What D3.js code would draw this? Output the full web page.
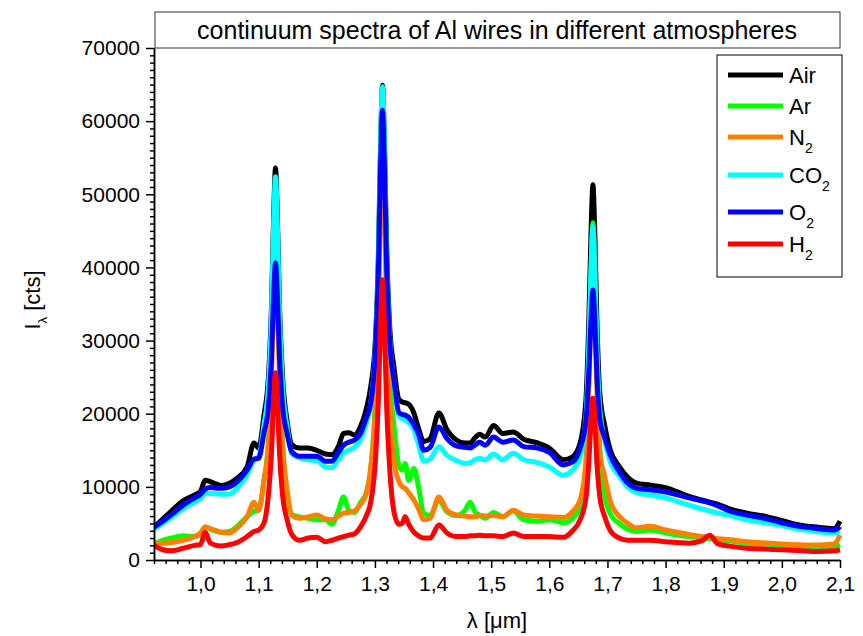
<!DOCTYPE html>
<html>
<head>
<meta charset="utf-8">
<script src="https://cdn.jsdelivr.net/npm/d3@7"></script>
<style>
  body { margin: 0; background: #fff; }
  text { font-family: "Liberation Sans", Arial, sans-serif; }
</style>
</head>
<body>
<div id="chart"></div>
<script>
// wavelength grid in micrometres
var lambda = [0.92,0.935,0.95,0.97,0.99,1.0,1.008,1.017,1.035,1.05,
  1.063,1.08,1.092,1.1,1.109,1.117,1.122,1.126,1.129,1.132,
  1.136,1.141,1.149,1.157,1.17,1.185,1.2,1.215,1.226,1.237,
  1.246,1.255,1.265,1.275,1.285,1.293,1.301,1.306,1.31,1.313,
  1.316,1.32,1.325,1.333,1.341,1.347,1.352,1.358,1.367,1.375,
  1.384,1.395,1.41,1.424,1.44,1.455,1.464,1.472,1.48,1.49,
  1.504,1.52,1.538,1.556,1.58,1.6,1.624,1.64,1.653,1.663,
  1.668,1.672,1.675,1.678,1.682,1.687,1.695,1.705,1.72,1.735,
  1.75,1.773,1.8,1.84,1.862,1.876,1.89,1.91,1.94,1.97,
  2.0,2.03,2.06,2.09,2.1];

var air = [4500,5600,6700,8100,8900,9400,10900,10700,10200,10500,
  11200,12700,16000,15300,19700,25200,34500,47700,53600,47700,
  34500,25200,19000,15800,15300,15300,15000,14500,14400,15500,
  17300,17400,17100,18200,20600,23800,30400,41700,57700,64900,
  58200,43200,32500,26200,22000,21600,21500,21300,20100,18000,
  16200,16600,20100,17800,16400,16000,16000,16700,17200,16800,
  18400,17300,17500,16500,16000,15300,13700,14100,16000,22000,
  32900,45600,51300,45400,32200,22700,18500,15000,12800,11300,
  10500,10250,9900,8700,8200,7900,7600,7000,6400,6000,
  5400,4800,4500,4300,5300];

var ar = [2200,2700,3000,3300,3200,3600,4500,4200,3800,3900,
  4600,5900,6700,6800,10800,16500,26300,39900,46000,39900,
  26200,16400,8500,6200,5900,5700,5500,5500,4900,6700,
  8600,6800,6500,7800,9200,12500,22400,36300,55700,64500,
  56400,38500,25700,18200,13000,12300,13200,10900,12500,10000,
  6400,6100,8200,6600,6100,6800,7900,6600,6150,5700,
  6500,5900,6700,5500,5300,5500,5100,5700,7300,13000,
  26000,39900,46100,39700,25300,15100,9000,6300,5000,4200,
  3900,4100,3700,3200,3000,2900,2800,2600,2300,2200,
  2050,1900,1800,1850,2100];

var n2 = [2300,2300,2400,2700,3200,3700,4500,4300,3800,3700,
  4400,5900,7900,6800,10800,15900,24500,36600,42000,36600,
  24500,15900,9500,6200,5700,5900,6150,5600,5500,6000,
  6400,6500,6700,7600,9000,12800,21100,33250,50300,58000,
  50600,34250,22500,13500,10800,10000,9800,9200,8200,7000,
  5500,5700,8600,6800,6150,6000,5900,5900,6100,6000,
  6100,5900,6800,6150,6000,5900,5800,6600,8200,13500,
  23500,34900,40000,34700,23000,14600,11500,8000,6000,5000,
  4400,4600,4100,3500,3200,3100,2900,2800,2500,2350,
  2200,2100,2050,2200,3400];

var co2 = [4200,5000,5800,7000,7900,8400,9100,9100,9000,9000,
  9800,11600,13700,14100,18400,23900,33300,46500,52400,46500,
  33300,23900,18200,14500,14000,13700,13600,12700,12600,13700,
  14600,15000,15400,16400,18600,21500,29100,40850,57300,64700,
  57700,42100,31000,24400,19800,19300,19100,18800,17800,15800,
  13500,13800,15500,14300,13600,13200,13300,13700,13900,13700,
  14500,13700,14600,13700,13300,12700,11600,12300,14100,19500,
  29300,40500,45600,40400,28800,20500,16500,13400,11500,10000,
  9200,8900,8500,7500,7000,6700,6400,6100,5500,5100,
  4700,4200,3900,3700,3900];

var o2 = [4500,5300,6200,7500,8500,9000,9700,9900,9800,10000,
  10700,12300,13800,13900,17350,21100,27550,36550,40600,36600,
  27600,21100,17300,14800,14200,14200,14200,13500,13500,14700,
  15700,16100,16400,17300,19400,21500,28700,39500,54700,61500,
  55100,40750,30500,24500,20200,19900,19800,19500,18500,17200,
  15000,15400,18200,16600,15600,15400,15300,15700,16100,15700,
  16800,16100,16400,15500,15300,14700,13000,13400,15300,19000,
  25700,33400,36900,33200,24950,19100,16800,14300,12100,10500,
  9800,9600,9300,8500,8100,7800,7400,6700,6150,5700,
  5100,4600,4300,4100,4600];

var h2 = [2000,1400,1250,1600,2000,2100,3800,2300,1900,2100,
  2400,3200,3900,4100,5000,9100,14550,22200,25600,22200,
  14500,9000,5500,3500,2700,3000,3100,2500,2700,3000,
  3200,3400,3600,4500,6000,8000,13800,21900,33200,38300,
  33100,21400,13100,6500,4900,5000,5900,4900,3800,3300,
  3000,3000,4800,3700,3200,3200,3300,3300,3400,3300,
  3300,3200,3700,3200,3200,3200,3100,4000,5500,8500,
  13550,19450,22100,19300,13050,8600,6000,4000,3000,2700,
  2700,2700,2500,2300,2600,3400,2200,1900,1600,1500,
  1400,1300,1150,1250,1400];

var seriesNames = [["Air", ""], ["Ar", ""], ["N", "2"], ["CO", "2"], ["O", "2"], ["H", "2"]];
var seriesColors = ["#000000", "#00ff00", "#ff8000", "#00ffff", "#0000ff", "#ff0000"];
var seriesValues = [air, ar, n2, co2, o2, h2];

var xMajor = [1.0, 1.1, 1.2, 1.3, 1.4, 1.5, 1.6, 1.7, 1.8, 1.9, 2.0, 2.1];
var yMajor = [0, 10000, 20000, 30000, 40000, 50000, 60000, 70000];

var width = 863, height = 636;
var plotLeft = 154, plotRight = 840, plotTop = 48, plotBottom = 560;

var svg = d3.select("#chart").append("svg")
    .attr("width", width)
    .attr("height", height);

var x = d3.scaleLinear().domain([0.92, 2.1]).range([plotLeft, plotRight]);
var y = d3.scaleLinear().domain([0, 70000]).range([plotBottom, plotTop]);

// minor tick values
var xMinor = d3.range(0.92, 2.1001, 0.02).filter(function(v) {
    return Math.abs(v * 10 - Math.round(v * 10)) > 0.01;
});
var yMinor = d3.range(0, 70001, 1000).filter(function(v) { return v % 10000 !== 0; });

svg.append("defs").append("clipPath").attr("id", "plotclip")
    .append("rect")
    .attr("x", plotLeft).attr("y", 0)
    .attr("width", plotRight - plotLeft + 2).attr("height", plotBottom);

// Lines
var line = d3.line()
    .x(function(d) { return x(d[0]); })
    .y(function(d) { return y(d[1]); })
    .curve(d3.curveMonotoneX);

var plot = svg.append("g").attr("clip-path", "url(#plotclip)");
seriesValues.forEach(function(vals, i) {
    plot.append("path")
        .datum(lambda.map(function(l, j) { return [l, vals[j]]; }))
        .attr("d", line)
        .style("fill", "none")
        .style("stroke", seriesColors[i])
        .style("stroke-width", 5)
        .style("stroke-linejoin", "round");
});

// Axes
var fmtX = function(d) { return d3.format(".1f")(d).replace(".", ","); };

svg.append("g")
    .attr("class", "axis")
    .attr("transform", "translate(0," + plotBottom + ")")
    .call(d3.axisBottom(x).tickValues(xMinor).tickSize(4).tickSizeOuter(0).tickFormat(""));
svg.append("g")
    .attr("class", "axis")
    .attr("transform", "translate(0," + plotBottom + ")")
    .call(d3.axisBottom(x).tickValues(xMajor).tickSize(8).tickSizeOuter(0).tickPadding(8).tickFormat(fmtX));

svg.append("g")
    .attr("class", "axis")
    .attr("transform", "translate(" + plotLeft + ",0)")
    .call(d3.axisLeft(y).tickValues(yMinor).tickSize(4).tickSizeOuter(0).tickFormat(""));
svg.append("g")
    .attr("class", "axis")
    .attr("transform", "translate(" + plotLeft + ",0)")
    .call(d3.axisLeft(y).tickValues(yMajor).tickSize(8).tickSizeOuter(0).tickPadding(6).tickFormat(d3.format("d")));

svg.selectAll(".axis path, .axis line")
    .style("stroke", "#000")
    .style("stroke-width", 1.5);
svg.selectAll(".axis text")
    .style("font-size", "21px")
    .style("fill", "#000");

// Title box
svg.append("rect")
    .attr("x", 155).attr("y", 12)
    .attr("width", 685).attr("height", 36)
    .style("fill", "#fff")
    .style("stroke", "#333")
    .style("stroke-width", 1);
svg.append("text")
    .attr("x", 497).attr("y", 39)
    .style("text-anchor", "middle")
    .style("font-size", "25px")
    .text("continuum spectra of Al wires in different atmospheres");

// Axis titles
svg.append("text")
    .attr("x", 497).attr("y", 628)
    .style("text-anchor", "middle")
    .style("font-size", "22px")
    .text("λ [μm]");

var yt = svg.append("text")
    .attr("transform", "translate(40,300) rotate(-90)")
    .style("text-anchor", "middle")
    .style("font-size", "22px");
yt.append("tspan").text("I");
yt.append("tspan").attr("dy", 7).style("font-size", "13px").text("λ");
yt.append("tspan").attr("dy", -7).text(" [cts]");

// Legend
var legend = svg.append("g");
legend.append("rect")
    .attr("x", 717).attr("y", 55)
    .attr("width", 125).attr("height", 222)
    .style("fill", "#fff")
    .style("stroke", "#000")
    .style("stroke-width", 1);

var rowY = [75, 106, 137, 175, 212, 244];
seriesNames.forEach(function(name, i) {
    var g = legend.append("g").attr("transform", "translate(0," + rowY[i] + ")");
    g.append("line")
        .attr("x1", 728).attr("x2", 783)
        .attr("y1", 0).attr("y2", 0)
        .style("stroke", seriesColors[i])
        .style("stroke-width", 5);
    var t = g.append("text")
        .attr("x", 789).attr("y", 8)
        .style("font-size", "22px");
    t.append("tspan").text(name[0]);
    if (name[1]) {
        t.append("tspan").attr("dy", 8).style("font-size", "14px").text(name[1]);
    }
});
</script>
</body>
</html>
